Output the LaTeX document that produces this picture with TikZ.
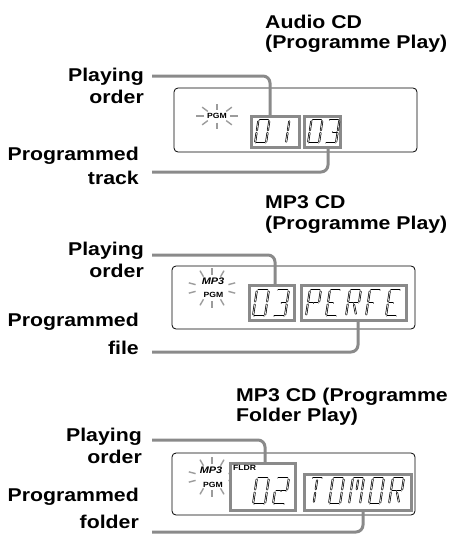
\documentclass[tikz,border=0pt]{standalone}
\usepackage{fontspec}
\setmainfont{Liberation Sans}[FakeStretch=1.15]
\definecolor{lcdgray}{RGB}{138,138,138}

% segments of one lcd cell, the cell is 1 wide and 2 high
\def\segA{0.12/2/0.88/2}
\def\segB{1/1.88/1/1.12}
\def\segC{1/0.88/1/0.12}
\def\segD{0.12/0/0.88/0}
\def\segE{0/0.12/0/0.88}
\def\segF{0/1.12/0/1.88}
\def\segG{0.12/1/0.44/1}
\def\segH{0.56/1/0.88/1}
\def\segI{0.5/1.14/0.5/1.82}
\def\segJ{0.5/0.18/0.5/0.86}
\def\segK{0.58/0.86/0.86/0.18}

\edef\chZero{\segA,\segB,\segC,\segD,\segE,\segF}
\edef\chOne{\segB,\segC}
\edef\chTwo{\segA,\segB,\segG,\segH,\segE,\segD}
\edef\chThree{\segA,\segB,\segC,\segD,\segH}
\edef\chP{\segA,\segB,\segF,\segE,\segG,\segH}
\edef\chE{\segA,\segF,\segE,\segD,\segG}
\edef\chR{\segA,\segB,\segF,\segE,\segG,\segH,\segK}
\edef\chF{\segA,\segF,\segE,\segG}
\edef\chT{\segA,\segI,\segJ}
\edef\chO{\segA,\segB,\segC,\segD,\segE,\segF}
\edef\chM{\segA,\segB,\segC,\segE,\segF,\segI}

% #1,#2 lower left corner, #3 width, #4 height, #5 segments
\newcommand{\lcdchar}[5]{%
  \begin{scope}[shift={(#1,#2)}, x={(#3pt,0pt)}, y={({0.075*#4pt},{0.5*#4pt})}]
    \foreach \xa/\ya/\xb/\yb in #5 {\draw[lcdseg] (\xa,\ya) -- (\xb,\yb);}
  \end{scope}}

\begin{document}
\begin{tikzpicture}[x=1pt, y=-1pt,
  lbl/.style={font=\bfseries\fontsize{18.5}{22}\selectfont, inner sep=0pt,
    align=right, anchor=north east},
  ttl/.style={font=\bfseries\fontsize{18.5}{20}\selectfont, inner sep=0pt,
    align=left, anchor=north west},
  disp/.style={draw=black, line width=0.8pt, rounded corners=4pt, inner sep=0pt},
  lcdbox/.style={draw=lcdgray, line width=3pt, fill=white, inner sep=0pt},
  lead/.style={draw=lcdgray, line width=3pt, rounded corners=7pt},
  lcdseg/.style={draw=black, line width=0.7pt, double=white,
    double distance=0.6pt, line cap=round},
  ray/.style={draw=lcdgray!85, line width=1.4pt},
  pgmtxt/.style={font=\bfseries\fontsize{7.5}{8}\selectfont, inner sep=0pt},
  mptxt/.style={font=\bfseries\itshape\fontsize{9.5}{10}\selectfont, inner sep=0pt}]

\useasboundingbox (0,0) rectangle (449,535);

% ---- Audio CD
\node[ttl] (title1) at (265,15) {Audio CD\\(Programme Play)};
\node[lbl] (play1) at (144,68) {Playing\\order};
\node[lbl] (prog1) at (139,147) {Programmed\\[2pt]track};

\node[disp, minimum width=243pt, minimum height=64pt] (disp1) at (295.5,120) {};
\node[pgmtxt] (pgm1) at (217,116) {PGM};
\foreach \a in {0,45,...,315}
  \draw[ray] ([shift={(\a:13 and 6.5)}]pgm1.center) -- ([shift={(\a:21 and 12.5)}]pgm1.center);

\node[lcdbox, minimum width=48pt, minimum height=31pt] (ord1) at (275.5,132) {};
\node[lcdbox, minimum width=36pt, minimum height=31pt] (trk1) at (322.5,132) {};
\coordinate (po1) at (152,76);
\coordinate (pt1) at (152,172);
\draw[lead] (po1) -| ([xshift=-5.5]ord1.north);
\draw[lead] (pt1) -| ([xshift=5.5]trk1.south);

\lcdchar{255}{143}{11}{23}{\chZero}
\lcdchar{275}{143}{11}{23}{\chOne}
\lcdchar{308}{143}{11}{23}{\chZero}
\lcdchar{325}{143}{11}{23}{\chThree}

% ---- MP3 CD
\node[ttl] (title2) at (265,195) {MP3 CD\\[1pt](Programme Play)};
\node[lbl] (play2) at (144,242) {Playing\\order};
\node[lbl] (prog2) at (139,313) {Programmed\\[6pt]file};

\node[disp, minimum width=243pt, minimum height=63pt] (disp2) at (293.5,297.5) {};
\node[mptxt] (mp2) at (213,281) {MP3};
\node[pgmtxt] (pgm2) at (213.5,295) {PGM};
\coordinate (blink2) at (212,288);
\foreach \a in {15,60,90,120,165,195,240,270,300,345}
  \draw[ray] ([shift={(\a:17 and 13)}]blink2) -- ([shift={(\a:24 and 20)}]blink2);

\node[lcdbox, minimum width=45pt, minimum height=35pt] (ord2) at (272,303) {};
\node[lcdbox, minimum width=105pt, minimum height=35pt] (file2) at (354,303) {};
\coordinate (po2) at (152,255);
\coordinate (pf2) at (152,352);
\draw[lead] (po2) -| ([xshift=3]ord2.north);
\draw[lead] (pf2) -| ([xshift=4]file2.south);

\lcdchar{253}{316}{12}{26}{\chZero}
\lcdchar{273}{316}{12}{26}{\chThree}
\lcdchar{306}{316}{11}{26}{\chP}
\lcdchar{326}{316}{11}{26}{\chE}
\lcdchar{346}{316}{11}{26}{\chR}
\lcdchar{366}{316}{11}{26}{\chF}
\lcdchar{386}{316}{11}{26}{\chE}

% ---- MP3 CD, folder
\node[ttl] (title3) at (236,388) {MP3 CD (Programme\\Folder Play)};
\node[lbl] (play3) at (142,428) {Playing\\order};
\node[lbl] (prog3) at (139,488) {Programmed\\[5pt]folder};

\node[disp, minimum width=243pt, minimum height=62pt] (disp3) at (293.5,484) {};
\node[mptxt] (mp3) at (211,470) {MP3};
\node[pgmtxt] (pgm3) at (213,485) {PGM};
\coordinate (blink3) at (212,477);
\foreach \a in {15,60,90,120,165,195,240,270,300,345}
  \draw[ray] ([shift={(\a:17 and 13)}]blink3) -- ([shift={(\a:24 and 20)}]blink3);

\node[lcdbox, minimum width=65pt, minimum height=47pt] (fold3) at (263,487) {};
\node[lcdbox, minimum width=107pt, minimum height=36pt] (name3) at (358,492.5) {};
\coordinate (po3) at (152,440);
\coordinate (pf3) at (152,532);
\draw[lead] (po3) -| ([xshift=2]fold3.north);
\draw[lead] (pf3) -| ([xshift=5]name3.south);
\node[font=\bfseries\fontsize{7.5}{8}\selectfont, inner sep=0pt, anchor=west] (fldr3) at (233,468) {FLDR};

\lcdchar{253}{504}{12}{26}{\chZero}
\lcdchar{273}{504}{12}{26}{\chTwo}
\lcdchar{308}{504}{11}{26}{\chT}
\lcdchar{329}{504}{11}{26}{\chO}
\lcdchar{349}{504}{11}{26}{\chM}
\lcdchar{369}{504}{11}{26}{\chO}
\lcdchar{389}{504}{11}{26}{\chR}

\end{tikzpicture}
\end{document}
